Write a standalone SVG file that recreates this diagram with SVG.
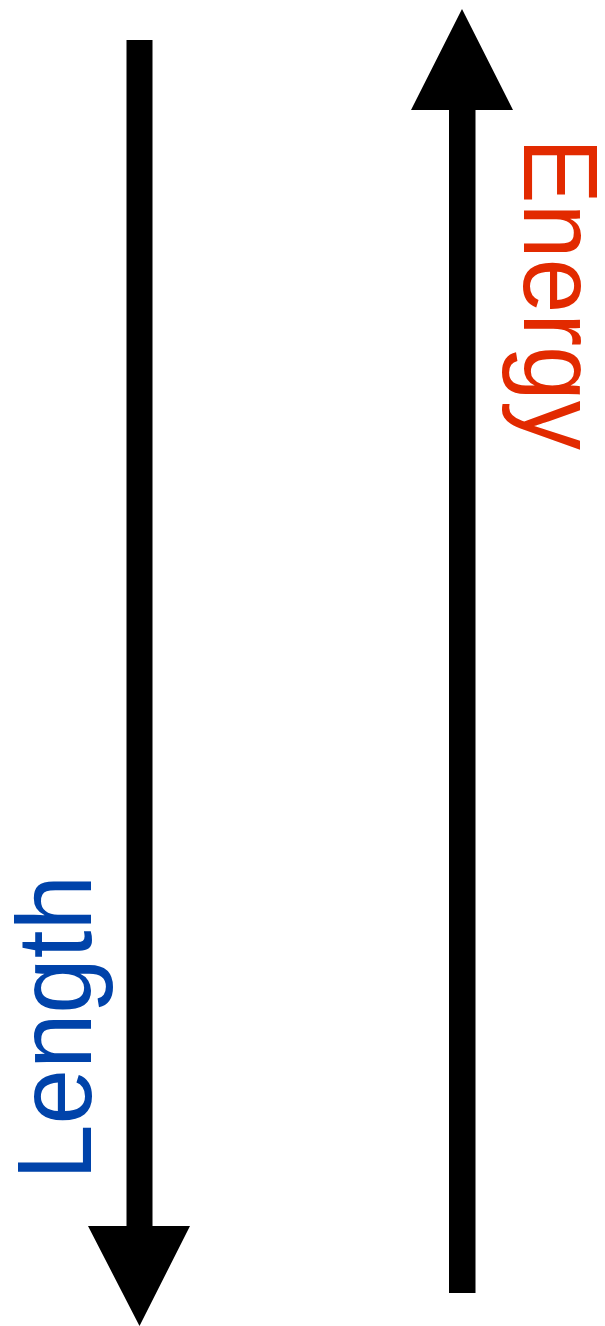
<svg xmlns="http://www.w3.org/2000/svg" width="605" height="1326" viewBox="0 0 605 1326">
  <style>
    .arrow { fill: #000000; }
    .lbl { font-family: "Liberation Sans", Arial, sans-serif; font-size: 106px; }
    .energy { fill: #E22A00; }
    .length { fill: #0043AA; }
  </style>
  <rect width="605" height="1326" fill="#ffffff"/>
  <g id="connectors">
    <path id="length-arrow" class="arrow" d="M126.5,40 H152.5 V1226 H190 L139.5,1326 L88,1226 H126.5 Z"/>
    <path id="energy-arrow" class="arrow" d="M449,1293 H475.5 V110 H513 L462,9 L411,110 H449 Z"/>
  </g>
  <g id="energy-label">
    <text class="lbl energy" transform="translate(524,138) rotate(90)" x="0" y="0" textLength="312" lengthAdjust="spacingAndGlyphs">Energy</text>
  </g>
  <g id="length-label">
    <text class="lbl length" transform="translate(91,1180) rotate(-90)" x="0" y="0" textLength="305" lengthAdjust="spacingAndGlyphs">Length</text>
  </g>
</svg>
